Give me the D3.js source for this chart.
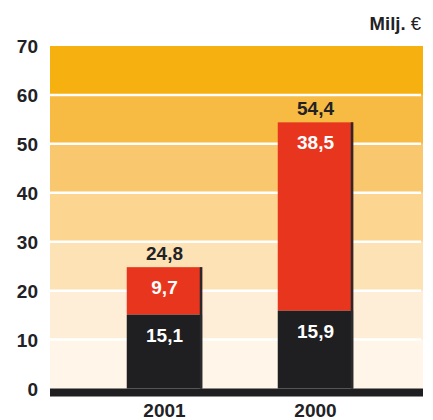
<!DOCTYPE html>
<html>
<head>
<meta charset="utf-8">
<script src="https://cdn.jsdelivr.net/npm/d3@7"></script>
<style>
  body { margin: 0; background: #fff; }
  text { font-family: "Liberation Sans", Arial, sans-serif; font-weight: bold; }
</style>
</head>
<body>
<svg width="433" height="420"></svg>
<script>
const years = ['2001', '2000'];
const lower = [15.1, 15.9];
const upper = [9.7, 38.5];
const totals = [24.8, 54.4];
const yTicks = [0, 10, 20, 30, 40, 50, 60, 70];
const bandColors = ['#fff5e9', '#feeed8', '#fde2b6', '#fcd590', '#f9c86e', '#f7bb44', '#f6b00f'];

const fmt = (v) => String(v).replace('.', ',');

const svg = d3.select('svg');
const left = 50, right = 423;

const y = d3.scaleLinear()
  .domain([0, 70])
  .range([388.5, 46]);

const x = d3.scaleBand()
  .domain(years)
  .range([89, 391])
  .paddingInner(0.5)
  .paddingOuter(0.25);

// coloured bands
svg.selectAll('rect.band')
  .data(d3.range(7))
  .enter()
    .append('rect')
    .attr('class', 'band')
    .attr('x', left)
    .attr('width', right - left)
    .attr('y', (i) => y(yTicks[i + 1]))
    .attr('height', (i) => y(yTicks[i]) - y(yTicks[i + 1]))
    .attr('fill', (i) => bandColors[i]);

// white grid lines
svg.selectAll('line.grid')
  .data(yTicks.slice(1, -1))
  .enter()
    .append('line')
    .attr('x1', left)
    .attr('x2', right - 2)
    .attr('y1', (d) => y(d))
    .attr('y2', (d) => y(d))
    .attr('stroke', '#fff')
    .attr('stroke-width', 2.5);

// y tick labels
svg.selectAll('text.ytick')
  .data(yTicks)
  .enter()
    .append('text')
    .attr('x', 38)
    .attr('y', (d) => y(d) + 7)
    .attr('text-anchor', 'end')
    .attr('font-size', 19)
    .attr('fill', '#222226')
    .text((d) => d);

// unit
const unit = svg.append('text')
  .attr('x', 421)
  .attr('y', 30)
  .attr('text-anchor', 'end')
  .attr('font-size', 18.5)
  .attr('fill', '#222226');
unit.append('tspan').text('Milj. ');
unit.append('tspan').attr('font-weight', 'normal').text('€');

const bars = svg.selectAll('g.bar')
  .data(years)
  .enter()
    .append('g')
    .attr('class', 'bar');

// red upper segment
bars.append('rect')
  .attr('x', (d) => x(d))
  .attr('width', x.bandwidth())
  .attr('y', (d, i) => y(lower[i] + upper[i]))
  .attr('height', (d, i) => y(lower[i]) - y(lower[i] + upper[i]))
  .attr('fill', '#e8361e');

// black lower segment
bars.append('rect')
  .attr('x', (d) => x(d))
  .attr('width', x.bandwidth())
  .attr('y', (d, i) => y(lower[i]))
  .attr('height', (d, i) => y(0) - y(lower[i]))
  .attr('fill', '#1f1f22');

// dark edge on the right
bars.append('rect')
  .attr('x', (d) => x(d) + x.bandwidth() - 2.5)
  .attr('width', 2.5)
  .attr('y', (d, i) => y(lower[i] + upper[i]))
  .attr('height', (d, i) => y(0) - y(lower[i] + upper[i]))
  .attr('fill', '#2a2a2c');

// labels
bars.append('text')
  .attr('x', (d) => x(d) + x.bandwidth() / 2)
  .attr('y', (d, i) => y(totals[i]) - 7)
  .attr('text-anchor', 'middle')
  .attr('font-size', 19)
  .attr('fill', '#222226')
  .text((d, i) => fmt(totals[i]));

bars.append('text')
  .attr('x', (d) => x(d) + x.bandwidth() / 2)
  .attr('y', (d, i) => y(lower[i] + upper[i]) + 27)
  .attr('text-anchor', 'middle')
  .attr('font-size', 19)
  .attr('fill', '#fff')
  .text((d, i) => fmt(upper[i]));

bars.append('text')
  .attr('x', (d) => x(d) + x.bandwidth() / 2)
  .attr('y', (d, i) => y(lower[i]) + 27)
  .attr('text-anchor', 'middle')
  .attr('font-size', 19)
  .attr('fill', '#fff')
  .text((d, i) => fmt(lower[i]));

// baseline
svg.append('rect')
  .attr('x', left)
  .attr('width', right - left)
  .attr('y', y(0))
  .attr('height', 8)
  .attr('fill', '#1f1f22');

// x labels
svg.selectAll('text.xlab')
  .data(years)
  .enter()
    .append('text')
    .attr('x', (d) => x(d) + x.bandwidth() / 2)
    .attr('y', 417)
    .attr('text-anchor', 'middle')
    .attr('font-size', 19)
    .attr('fill', '#222226')
    .text((d) => d);
</script>
</body>
</html>
